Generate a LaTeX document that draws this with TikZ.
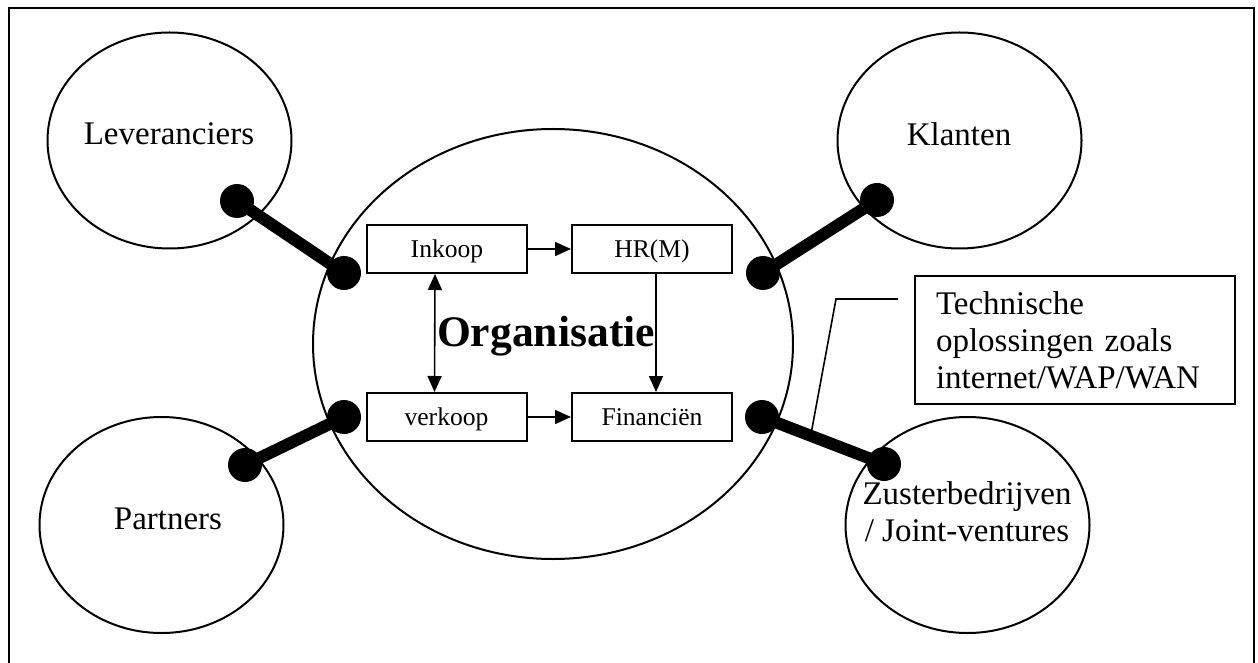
\documentclass[tikz,border=0pt]{standalone}
\usepackage{fontspec}
\setmainfont{Liberation Serif}
\usetikzlibrary{shapes.geometric,arrows.meta}

\tikzset{
  party/.style={draw,ellipse,line width=1pt,minimum width=122pt,minimum height=108pt},
  lbl/.style={anchor=base,font=\fontsize{16.5}{18.5}\selectfont,inner sep=0pt},
  dept/.style={draw,line width=1pt,minimum width=80pt,minimum height=24pt,text depth=0pt,
    font=\fontsize{12.8}{14}\selectfont},
  dot/.style={circle,fill=black,inner sep=0pt,minimum size=17pt},
  link/.style={line width=6pt},
  arr/.style={->,line width=0.8pt}
}

\begin{document}
\begin{tikzpicture}[x=0.5pt,y=-0.5pt,>={Triangle[length=8pt,width=7pt]}]
		\useasboundingbox (0,0) rectangle (1258,663);
		\draw[line width=1pt] (9,670) -- (9,8) -- (1254,8) -- (1254,670);
		% outer parties
		\node[party] (lev) at (169.5,140.5) {};
		\node[party] (kla) at (959.5,140.5) {};
		\node[party] (par) at (161.5,525) {};
		\node[party] (zus) at (967.5,525) {};
		\node[lbl] (lev-t) at (169,145) {Leveranciers};
		\node[lbl] (kla-t) at (959,146) {Klanten};
		\node[lbl] (par-t) at (168,529) {Partners};
		\node[lbl,align=center] (zus-t) at (967,541) {Zusterbedrijven\\/ Joint-ventures};
		% organisation
		\node[draw,ellipse,line width=1pt,minimum width=240pt,minimum height=215pt] (org) at (553,344) {};
		\node[anchor=base,font=\fontsize{21.8}{26}\selectfont\bfseries] (org-t) at (546,346) {Organisatie};
		\node[dept] (ink) at (447,249) {Inkoop};
		\node[dept] (hrm) at (652,249) {HR(M)};
		\node[dept] (verk) at (446.5,417) {verkoop};
		\node[dept] (fin) at (652,417) {Financiën};
		\draw[arr] (ink) -- (hrm);
		\draw[arr] (verk) -- (fin);
		\draw[arr,<->] ([xshift=-6pt]ink.south) -- ([xshift=-6pt]verk.north);
		\draw[arr] ([xshift=2pt]hrm.south) -- ([xshift=2pt]fin.north);
		% links
		\node[dot] (l1) at (237,201) {};
		\node[dot] (l2) at (344,273) {};
		\node[dot] (k1) at (877,200) {};
		\node[dot] (k2) at (763,273) {};
		\node[dot] (p1) at (245,465) {};
		\node[dot] (p2) at (344,417) {};
		\node[dot] (z1) at (762,417) {};
		\node[dot] (z2) at (884,464) {};
		\draw[link] (l1.center) -- (l2.center);
		\draw[link] (k1.center) -- (k2.center);
		\draw[link] (p1.center) -- (p2.center);
		\draw[link] (z1.center) -- (z2.center);
		% note
		\node[draw,line width=1pt,anchor=north west,minimum width=160pt,minimum height=64pt,
		  text width=139pt,inner xsep=10.5pt,align=left,font=\fontsize{16.5}{18.5}\selectfont] (tech) at (914,275)
		  {Technische\\oplossingen zoals\\internet/WAP/WAN};
		\coordinate (c1) at (898,299);
		\coordinate (c2) at (811,434);
		\draw[line width=0.8pt] (c1) -- (836,299) -- (c2);
		\end{tikzpicture}
\end{document}
